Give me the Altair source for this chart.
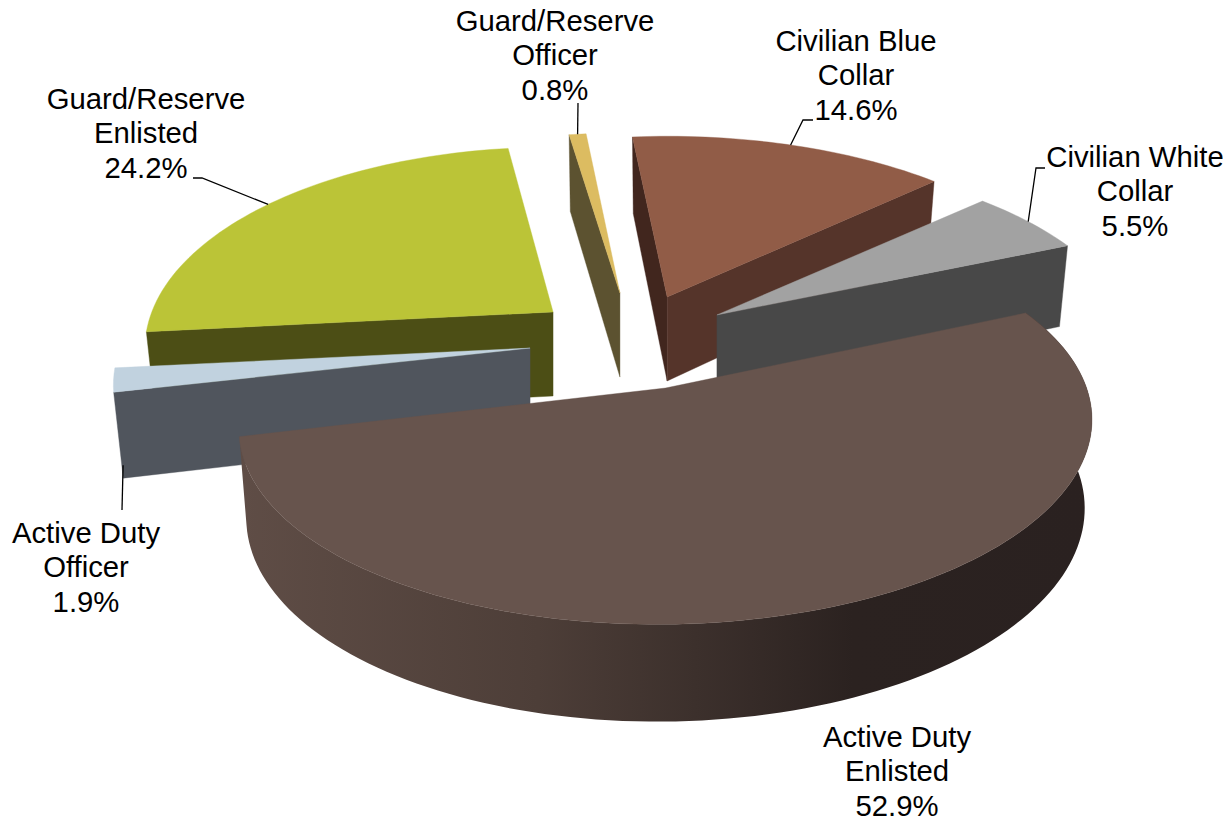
import math
import altair as alt
import pandas as pd

# ---- chart values, in drawing order clockwise from the big slice
NAMES = ["Active Duty\nEnlisted", "Active Duty\nOfficer", "Guard/Reserve\nEnlisted",
         "Guard/Reserve\nOfficer", "Civilian Blue\nCollar", "Civilian White\nCollar"]
SHARES = [52.9, 1.9, 24.2, 0.8, 14.6, 5.5]

# ---- styling
TOP = ["#67544d", "#c1d2df", "#bbc437", "#dcbc61", "#915c47", "#a2a2a2"]
SIDE = ["#5c4a43", "#50555d", "#4c4e15", "#5c5230", "#55342a", "#484848"]
CB_LEFT = "#41261e"

# ---- layout: tilted, exploded disc in page pixels
CX, CY, RX, RY, PERSP = 640, 335, 418, 195, 0.183
START = 67.0
EXPLODE = [(.061, -.272), (-.263, -.067), (-.208, .118), (-.048, .215), (.065, .195), (.184, .103)]
XS = [1.003, .98, .96, .96, .985, .98]
YS = [.99, 1.0, 1.0, .97, .975, .96]
SHEAR = [5, 0, 0, 0, 0, 0]
END_TWEAK = [0, 0, 1.0, 0, 0, 0]   # perspective widens this slice's far corner a little
DEPTH = [87, 84, 84, 84, 84, 84]
INSET = [.983, .977, .977, .977, .977, .977]
LABEL_POS = [(897, 747), (86, 543), (146, 109), (555, 31), (856, 51), (1135, 167)]
LEADER = {1: [(122, 510)], 2: [(202, 178), (193, 178)], 3: [(578, 103)],
          4: [(803, 120), (813, 120)], 5: [(1036, 168), (1045, 168)]}

W, H = 1215, 812
xs = alt.Scale(domain=[8, 8 + W], nice=False, zero=False)
ys = alt.Scale(domain=[8 + H, 8], nice=False, zero=False)

spans, a = [], START
for v in SHARES:
    spans.append((a, a + v * 3.6))
    a += v * 3.6

def apex(i):
    du, dv = EXPLODE[i]
    return CX + RX * du, CY - RY * dv

def rim(i, deg):
    t = math.radians(deg)
    u, v = math.sin(t), math.cos(t)
    s = 1 / (1 + PERSP * v)
    ax, ay = apex(i)
    return ax + XS[i] * RX * u * s, ay - YS[i] * RY * v * s - SHEAR[i] * u, s

def low(i, pt):
    x, y, s = pt
    ax, _ = apex(i)
    return ax + (x - ax) * INSET[i], y + DEPTH[i] * s ** .55

def arc(i, n=None):
    a0, a1 = spans[i]
    a1 += END_TWEAK[i]
    n = n or max(4, int((a1 - a0) / 1.5))
    return [rim(i, a0 + (a1 - a0) * k / n) for k in range(n + 1)]

def poly(points, **mark):
    pts = list(points) + [points[0]]
    df = pd.DataFrame({"x": [p[0] for p in pts], "y": [p[1] for p in pts], "i": range(len(pts))})
    return alt.Chart(df).mark_line(**mark).encode(
        x=alt.X("x:Q", scale=xs, axis=None),
        y=alt.Y("y:Q", scale=ys, axis=None),
        order="i:Q",
    )

def solid(points, color):
    return poly(points, fill=color, stroke=color, strokeWidth=0.4)

def top(i):
    ax, ay = apex(i)
    return solid([(ax, ay)] + [p[:2] for p in arc(i)], TOP[i])

def cut(i, deg, color):
    ax, ay = apex(i)
    r = rim(i, deg)
    return solid([(ax, ay), r[:2], low(i, r), low(i, (ax, ay, 1.0))], color)

a_big, a_ado, a_gre, a_gro, a_cb, a_cw = spans
layers = [
    cut(2, a_gre[0], SIDE[2]), top(2),
    cut(3, a_gro[0], SIDE[3]), top(3),
    cut(4, a_cb[0], CB_LEFT), cut(4, a_cb[1], SIDE[4]), top(4),
    cut(5, a_cw[1], SIDE[5]), top(5),
    cut(1, a_ado[0], SIDE[1]), top(1),
]
big_rim = arc(0)
gradient = {"gradient": "linear", "x1": 0, "x2": 1, "y1": 0, "y2": 0, "stops": [
    {"offset": 0, "color": "#5f4d46"}, {"offset": .35, "color": "#4d3e38"},
    {"offset": .72, "color": "#2b2220"}, {"offset": 1, "color": "#2a2120"}]}
layers.append(poly([p[:2] for p in big_rim] + [low(0, p) for p in reversed(big_rim)],
                   fill=gradient, strokeWidth=0))
layers.append(top(0))

for i, bends in LEADER.items():
    m = rim(i, sum(spans[i]) / 2)
    start = low(i, m) if i == 1 else m[:2]
    pts = [start] + bends
    df = pd.DataFrame({"x": [p[0] for p in pts], "y": [p[1] for p in pts], "i": range(len(pts))})
    layers.append(alt.Chart(df).mark_line(color="black", strokeWidth=1.3).encode(
        x=alt.X("x:Q", scale=xs, axis=None), y=alt.Y("y:Q", scale=ys, axis=None), order="i:Q"))

label_df = pd.DataFrame({
    "t": [f"{n}\n{v:.1f}%" for n, v in zip(NAMES, SHARES)],
    "x": [p[0] for p in LABEL_POS],
    "y": [p[1] for p in LABEL_POS],
})
layers.append(alt.Chart(label_df).mark_text(
    font="Liberation Sans", fontSize=29.3, lineHeight=34.3, lineBreak="\n",
    align="center", baseline="alphabetic", color="black").encode(
    x=alt.X("x:Q", scale=xs, axis=None), y=alt.Y("y:Q", scale=ys, axis=None), text="t:N"))

chart = alt.layer(*layers).properties(
    width=W, height=H, padding=0, autosize=alt.AutoSizeParams(type="none")
).configure_view(stroke=None)

chart.save("out.html", embed_options={"renderer": "svg", "actions": False})
